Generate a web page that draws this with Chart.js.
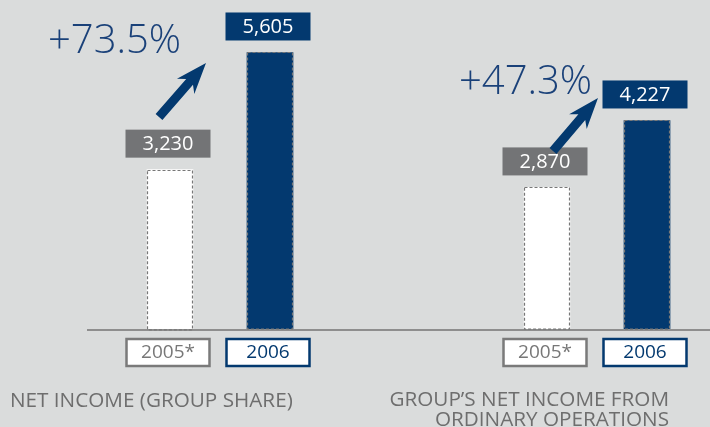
<!DOCTYPE html>
<html>
<head>
<meta charset="utf-8">
<script src="https://cdn.jsdelivr.net/npm/chart.js@4"></script>
<style>
  body { margin: 0; background: #dadcdc; }
  #wrap { position: relative; width: 710px; height: 427px; overflow: hidden; }
  canvas { position: absolute; top: 0; }
</style>
</head>
<body>
<div id="wrap">
  <canvas id="leftChart" width="355" height="427" style="left:0"></canvas>
  <canvas id="rightChart" width="355" height="427" style="left:355px"></canvas>
</div>
<script>
// data
const years = ['2005*', '2006'];
const netIncome = [3230, 5605];
const ordinaryIncome = [2870, 4227];
const leftTitle = ['NET INCOME (GROUP SHARE)'];
const rightTitle = ['GROUP\u2019S NET INCOME FROM', 'ORDINARY OPERATIONS'];

const NAVY = '#03396f';
const GREY = '#737476';
const FONT = '"Open Sans", "DejaVu Sans", sans-serif';

function drawArrow(ctx, x1, y1, x2, y2) {
    const a = Math.atan2(y2 - y1, x2 - x1);
    const L = Math.hypot(x2 - x1, y2 - y1);
    ctx.save();
    ctx.translate(x1, y1);
    ctx.rotate(a);
    ctx.beginPath();
    ctx.moveTo(0, -4.5);
    ctx.lineTo(L - 25, -4.5);
    ctx.lineTo(L - 31, -11.5);
    ctx.lineTo(L, 0);
    ctx.lineTo(L - 31, 11.5);
    ctx.lineTo(L - 25, 4.5);
    ctx.lineTo(0, 4.5);
    ctx.closePath();
    ctx.fillStyle = NAVY;
    ctx.fill();
    ctx.restore();
}

// boxes, labels, arrow and growth text
const decor = {
    id: 'decor',
    afterDatasetsDraw(chart, args, opts) {
        const ctx = chart.ctx;
        const bars = chart.getDatasetMeta(0).data;
        const values = chart.data.datasets[0].data;
        const base = chart.scales.y.getPixelForValue(0);

        ctx.save();
        // baseline
        ctx.strokeStyle = '#747474';
        ctx.lineWidth = 1.5;
        ctx.beginPath();
        ctx.moveTo(opts.lineFrom, base + 1);
        ctx.lineTo(chart.width, base + 1);
        ctx.stroke();

        bars.forEach((bar, i) => {
            const w = bar.width;
            // dashed outline
            ctx.setLineDash([3, 2]);
            ctx.strokeStyle = '#777777';
            ctx.lineWidth = 1.2;
            ctx.strokeRect(Math.round(bar.x - w / 2) + 0.5, Math.round(bar.y) + 0.5, w - 1, base - bar.y);
            ctx.setLineDash([]);

            // value box
            const bx = bar.x - 2, by = bar.y - 12;
            ctx.fillStyle = i === 0 ? GREY : NAVY;
            ctx.fillRect(bx - 42.5, by - 28, 85, 28);
            ctx.fillStyle = '#ffffff';
            ctx.font = '20px ' + FONT;
            ctx.textAlign = 'center';
            ctx.textBaseline = 'middle';
            ctx.fillText(values[i].toLocaleString('en-US'), bx, by - 13);

            // year box
            const col = i === 0 ? '#7a7a7a' : NAVY;
            const cy = base + 10;
            ctx.fillStyle = '#ffffff';
            ctx.fillRect(bx - 41.5, cy, 83, 27);
            ctx.strokeStyle = col;
            ctx.lineWidth = 2.5;
            ctx.strokeRect(bx - 41.5, cy, 83, 27);
            ctx.fillStyle = i === 0 ? '#777777' : NAVY;
            ctx.font = '19px ' + FONT;
            ctx.fillText(chart.data.labels[i], bx, cy + 14);
        });

        drawArrow(ctx, opts.arrow[0], opts.arrow[1], opts.arrow[2], opts.arrow[3]);

        // growth percentage
        const pct = (values[1] / values[0] - 1) * 100;
        ctx.fillStyle = '#1a4179';
        ctx.font = '300 40px ' + FONT;
        ctx.textAlign = 'left';
        ctx.textBaseline = 'alphabetic';
        ctx.fillText('+' + pct.toFixed(1) + '%', opts.pct[0], opts.pct[1]);

        // panel title
        ctx.fillStyle = '#6e6e6e';
        ctx.font = '20.7px ' + FONT;
        ctx.textAlign = opts.title.align;
        opts.title.lines.forEach((t, k) => {
            ctx.fillText(t, opts.title.x, opts.title.y + k * 20);
        });
        ctx.restore();
    }
};

function makeChart(id, values, pad, decorOpts) {
    return new Chart(document.getElementById(id).getContext('2d'), {
        type: 'bar',
        data: {
            labels: years,
            datasets: [{
                data: values,
                backgroundColor: ['#ffffff', NAVY],
                borderWidth: 0,
                barThickness: 46
            }]
        },
        options: {
            responsive: false,
            animation: false,
            layout: { padding: pad },
            scales: {
                x: { display: false },
                y: { display: false, min: 0, max: 6000 }
            },
            plugins: {
                legend: { display: false },
                tooltip: { enabled: false },
                decor: decorOpts
            }
        },
        plugins: [decor]
    });
}

makeChart('leftChart', netIncome,
    { left: 120, right: 35, top: 33, bottom: 98 },
    { lineFrom: 87, arrow: [159, 117, 206, 63], pct: [48, 53],
      title: { lines: leftTitle, x: 10, y: 407, align: 'left' } });

makeChart('rightChart', ordinaryIncome,
    { left: 142, right: 13, top: 33, bottom: 98 },
    { lineFrom: 0, arrow: [198, 151, 243, 98], pct: [104, 94],
      title: { lines: rightTitle, x: 314, y: 406, align: 'right' } });
</script>
</body>
</html>
